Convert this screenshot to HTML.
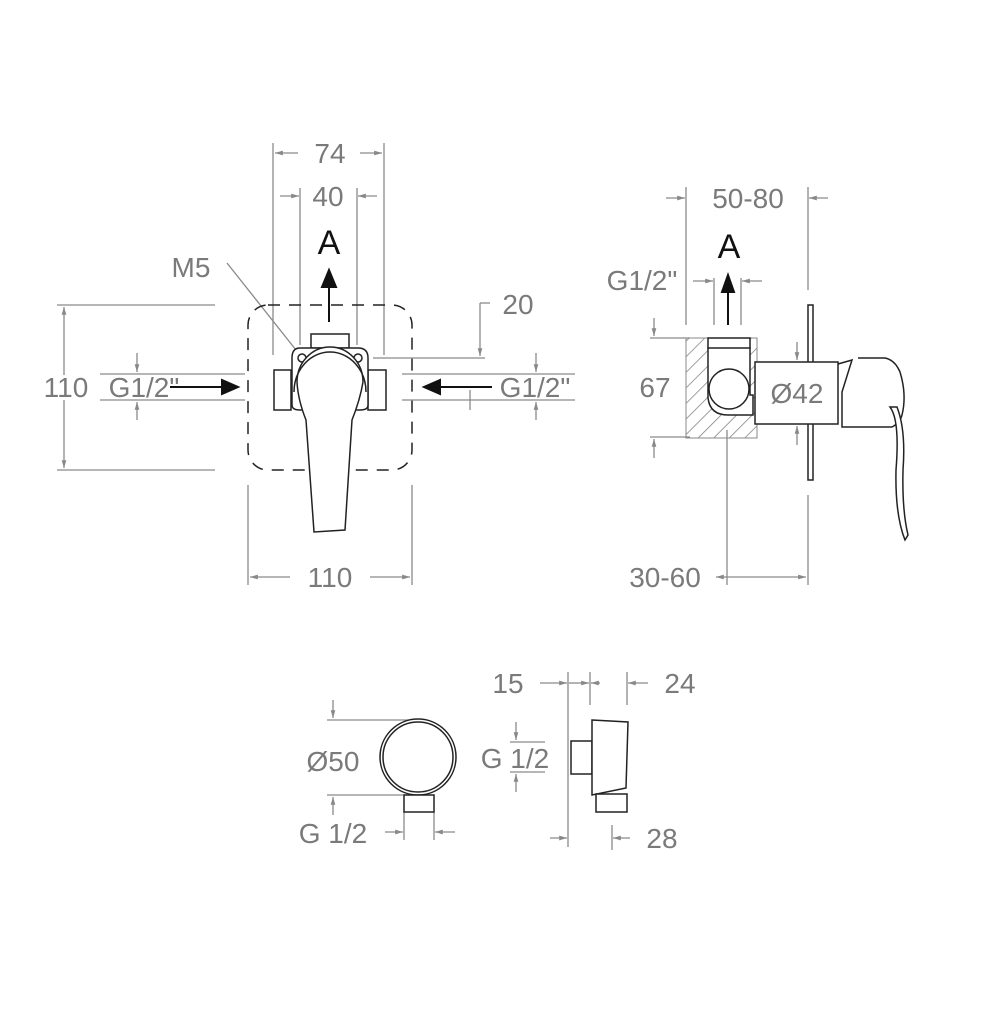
<!DOCTYPE html>
<html><head><meta charset="utf-8"><style>
html,body{margin:0;padding:0;background:#fff}
svg{display:block}
text{font-family:"Liberation Sans",sans-serif;fill:#7a7a7a}
</style></head><body>
<svg width="1000" height="1025" viewBox="0 0 1000 1025">
<defs>
<marker id="ah" viewBox="0 0 10 10" refX="10" refY="5" markerWidth="6" markerHeight="6" orient="auto-start-reverse"><path d="M0,2 L10,5 L0,8z" fill="#888"/></marker>
<pattern id="hatch" width="11" height="11" patternUnits="userSpaceOnUse" patternTransform="rotate(45)"><line x1="0" y1="0" x2="0" y2="11" stroke="#777" stroke-width="1.4"/></pattern>
</defs>
<g stroke="#8a8a8a" stroke-width="1.3" fill="none">
<line x1="273" y1="143" x2="273" y2="355"/><line x1="384" y1="143" x2="384" y2="355"/>
<line x1="275" y1="153" x2="298" y2="153" marker-start="url(#ah)"/><line x1="360" y1="153" x2="382" y2="153" marker-end="url(#ah)"/>
<line x1="300" y1="188" x2="300" y2="345"/><line x1="357" y1="188" x2="357" y2="345"/>
<line x1="280" y1="196" x2="299" y2="196" marker-end="url(#ah)"/><line x1="377" y1="196" x2="358" y2="196" marker-end="url(#ah)"/>
<line x1="227" y1="263" x2="296" y2="350"/>
<line x1="373" y1="358" x2="485" y2="358"/><line x1="480" y1="303" x2="480" y2="356" marker-end="url(#ah)"/><line x1="480" y1="303" x2="490" y2="303"/>
<line x1="57" y1="305" x2="215" y2="305"/><line x1="57" y1="470" x2="215" y2="470"/>
<line x1="64" y1="307" x2="64" y2="375" marker-start="url(#ah)"/><line x1="64" y1="400" x2="64" y2="468" marker-end="url(#ah)"/>
<line x1="100" y1="374" x2="245" y2="374"/><line x1="100" y1="400" x2="245" y2="400"/>
<line x1="137" y1="353" x2="137" y2="372" marker-end="url(#ah)"/><line x1="137" y1="420" x2="137" y2="402" marker-end="url(#ah)"/>
<line x1="402" y1="374" x2="575" y2="374"/><line x1="402" y1="400" x2="575" y2="400"/>
<line x1="470" y1="390" x2="470" y2="410"/>
<line x1="536" y1="353" x2="536" y2="372" marker-end="url(#ah)"/><line x1="536" y1="420" x2="536" y2="402" marker-end="url(#ah)"/>
<line x1="248" y1="485" x2="248" y2="585"/><line x1="412" y1="485" x2="412" y2="585"/>
<line x1="250" y1="577" x2="290" y2="577" marker-start="url(#ah)"/><line x1="370" y1="577" x2="410" y2="577" marker-end="url(#ah)"/>
<line x1="686" y1="187" x2="686" y2="325"/><line x1="808" y1="187" x2="808" y2="290"/>
<line x1="666" y1="198" x2="685" y2="198" marker-end="url(#ah)"/><line x1="828" y1="198" x2="809" y2="198" marker-end="url(#ah)"/>
<line x1="714" y1="278" x2="714" y2="325"/><line x1="741" y1="278" x2="741" y2="325"/>
<line x1="693" y1="281" x2="713" y2="281" marker-end="url(#ah)"/><line x1="762" y1="281" x2="742" y2="281" marker-end="url(#ah)"/>
<line x1="650" y1="338" x2="690" y2="338"/><line x1="650" y1="437" x2="690" y2="437"/>
<line x1="654" y1="318" x2="654" y2="336" marker-end="url(#ah)"/><line x1="654" y1="458" x2="654" y2="439" marker-end="url(#ah)"/>
<line x1="797" y1="342" x2="797" y2="360" marker-end="url(#ah)"/><line x1="797" y1="445" x2="797" y2="426" marker-end="url(#ah)"/>
<line x1="727" y1="430" x2="727" y2="585"/><line x1="808" y1="495" x2="808" y2="585"/>
<line x1="716" y1="577" x2="806" y2="577" marker-start="url(#ah)" marker-end="url(#ah)"/>
<line x1="327" y1="720" x2="412" y2="720"/><line x1="327" y1="795" x2="408" y2="795"/>
<line x1="333" y1="700" x2="333" y2="718" marker-end="url(#ah)"/><line x1="333" y1="815" x2="333" y2="797" marker-end="url(#ah)"/>
<line x1="404" y1="812" x2="404" y2="840"/><line x1="434" y1="812" x2="434" y2="840"/>
<line x1="385" y1="832" x2="403" y2="832" marker-end="url(#ah)"/><line x1="455" y1="832" x2="435" y2="832" marker-end="url(#ah)"/>
<line x1="568" y1="672" x2="568" y2="847"/><line x1="590" y1="672" x2="590" y2="705"/><line x1="627" y1="672" x2="627" y2="705"/>
<line x1="540" y1="683" x2="567" y2="683" marker-end="url(#ah)"/><line x1="569" y1="683" x2="580" y2="683"/>
<line x1="580" y1="683" x2="589" y2="683" marker-end="url(#ah)"/><line x1="600" y1="683" x2="591" y2="683" marker-end="url(#ah)"/>
<line x1="648" y1="683" x2="628" y2="683" marker-end="url(#ah)"/>
<line x1="510" y1="742" x2="545" y2="742"/><line x1="510" y1="772" x2="545" y2="772"/>
<line x1="516" y1="722" x2="516" y2="740" marker-end="url(#ah)"/><line x1="516" y1="792" x2="516" y2="774" marker-end="url(#ah)"/>
<line x1="550" y1="838" x2="567" y2="838" marker-end="url(#ah)"/>
<line x1="612" y1="825" x2="612" y2="850"/><line x1="630" y1="838" x2="613" y2="838" marker-end="url(#ah)"/>
</g>
<rect x="248" y="305" width="164" height="165" rx="20" fill="none" stroke="#222" stroke-width="1.5" stroke-dasharray="12,9"/>
<g stroke="#222" stroke-width="1.5" fill="#fff">
<rect x="274" y="370" width="17" height="40"/><rect x="368" y="370" width="18" height="40"/>
<rect x="311" y="334" width="38" height="14"/>
<path d="M300,348 H358 Q368,348 368,358 V405 Q368,410 360,410 H300 Q292,410 292,405 V358 Q292,348 300,348z"/>
<circle cx="302" cy="358" r="4"/><circle cx="358" cy="358" r="4"/>
<path d="M297,382 A32,34 0 0 1 363,382 Q360,400 352,420 L345,530 L314,532 L306,420 Q298,400 297,382z"/>
<path d="M294,392 A36,40 0 0 1 366,392" fill="none"/>
</g>
<g fill="#111" stroke="#111" stroke-width="2">
<line x1="329" y1="322" x2="329" y2="285"/><path d="M322,287 L329,270 L336,287z"/>
<line x1="170" y1="387" x2="225" y2="387"/><path d="M222,380 L238,387 L222,394z"/>
<line x1="492" y1="387" x2="437" y2="387"/><path d="M440,380 L424,387 L440,394z"/>
<line x1="728" y1="325" x2="728" y2="290"/><path d="M722,292 L728,275 L734,292z"/>
</g>
<rect x="686" y="338" width="71" height="100" fill="url(#hatch)" stroke="#888" stroke-width="1"/>
<g stroke="#222" stroke-width="1.5">
<path d="M708,348 L708,398 Q710,415 728,415 L753,415 L753,395 L750,395 L750,348 Q730,343 708,348z" fill="#fff"/>
<rect x="708" y="338" width="42" height="10" fill="#fff"/>
<circle cx="729" cy="389" r="20" fill="#fff"/>
<rect x="808" y="305" width="5" height="175" fill="#fff"/>
<rect x="755" y="362" width="83" height="62" fill="#fff"/>
<path d="M838,364 L852,360 L842,392 L842,427 L892,427 Q900,423 902,415 Q907,395 900,372 Q895,360 885,358 L858,358" fill="#fff"/>
<path d="M890,407 Q900,420 896,470 Q895,515 905,540 L908,535 Q902,510 903,470 Q906,430 897,407z" fill="#fff"/>
</g>
<g stroke="#222" stroke-width="1.5" fill="#fff">
<circle cx="418" cy="757" r="38"/><circle cx="418" cy="757" r="35"/>
<rect x="404" y="795" width="30" height="17"/>
<rect x="571" y="741" width="21" height="33"/>
<path d="M592,720 L628,722 L626,788 L592,795z"/>
<rect x="596" y="794" width="31" height="18"/>
</g>
<g font-size="28">
<text x="330" y="163" text-anchor="middle">74</text>
<text x="328" y="206" text-anchor="middle">40</text>
<text x="191" y="277" text-anchor="middle">M5</text>
<text x="518" y="314" text-anchor="middle">20</text>
<text x="66" y="397" text-anchor="middle">110</text>
<text x="144" y="397" text-anchor="middle">G1/2"</text>
<text x="535" y="397" text-anchor="middle">G1/2"</text>
<text x="330" y="587" text-anchor="middle">110</text>
<text x="748" y="208" text-anchor="middle">50-80</text>
<text x="642" y="290" text-anchor="middle">G1/2"</text>
<text x="655" y="397" text-anchor="middle">67</text>
<text x="797" y="403" text-anchor="middle">Ø42</text>
<text x="665" y="587" text-anchor="middle">30-60</text>
<text x="508" y="693" text-anchor="middle">15</text>
<text x="680" y="693" text-anchor="middle">24</text>
<text x="333" y="771" text-anchor="middle">Ø50</text>
<text x="515" y="768" text-anchor="middle">G 1/2</text>
<text x="333" y="843" text-anchor="middle">G 1/2</text>
<text x="662" y="848" text-anchor="middle">28</text>
</g>
<text x="329" y="254" font-size="34" text-anchor="middle" style="fill:#111">A</text>
<text x="729" y="258" font-size="34" text-anchor="middle" style="fill:#111">A</text>
</svg>
</body></html>
